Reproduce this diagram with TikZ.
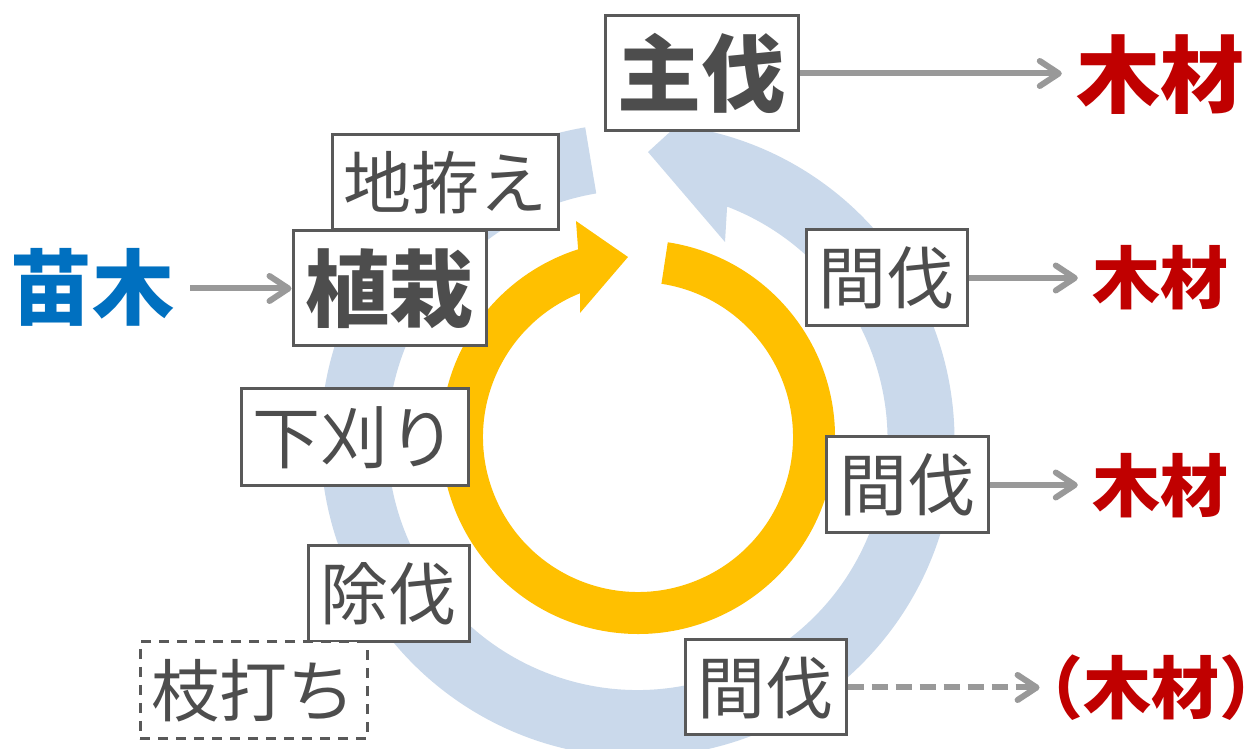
\documentclass[tikz,border=0pt]{standalone}
\usepackage{fontspec}
\setmainfont{Noto Sans CJK JP}
\usetikzlibrary{calc,arrows.meta}
\definecolor{ringblue}{RGB}{202,217,235}
\definecolor{ringyellow}{RGB}{255,192,0}
\definecolor{txtgray}{RGB}{77,77,77}
\definecolor{boxgray}{RGB}{89,89,89}
\definecolor{arrgray}{RGB}{153,153,153}
\definecolor{seedblue}{RGB}{0,112,192}
\definecolor{woodred}{RGB}{192,0,0}
\begin{document}
\begin{tikzpicture}[x=1pt,y=1pt,
  box/.style={draw=boxgray, line width=3pt, fill=white, inner sep=0pt, text=txtgray,
    font=\fontsize{68}{68}\selectfont},
  bigbox/.style={box, font=\fontsize{84}{84}\selectfont\bfseries},
  dbox/.style={box, dash pattern=on 10pt off 8pt},
  woodbig/.style={inner sep=0pt, text=woodred, font=\fontsize{84}{84}\selectfont\bfseries},
  woodsmall/.style={inner sep=0pt, text=woodred, font=\fontsize{68}{68}\selectfont\bfseries},
  garrow/.style={draw=arrgray, line width=6pt,
    -{Straight Barb[length=19pt,width=25pt,round]}},
  gdarrow/.style={garrow, dash pattern=on 16pt off 8pt}
]
\useasboundingbox (0,0) rectangle (1256,749);
\fill[white] (0,0) rectangle (1256,749);

% blue cycle arrow
\coordinate (B) at (637.5,309);
\fill[ringblue] ($(B)+(99.5:317)$) arc[start angle=99.5,end angle=438.6,radius=317pt]
  -- (705,649) -- (648,597) -- (725,507) -- ($(B)+(69:250)$)
  arc[start angle=69,end angle=-260.5,radius=250pt] -- cycle;

% yellow cycle arrow
\coordinate (Y) at (638,312);
\fill[ringyellow] ($(Y)+(81.3:197)$) arc[start angle=81.3,end angle=-252.3,radius=197pt]
  -- (576,528) -- (628,492) -- (580,436) -- ($(Y)+(-248.1:155)$)
  arc[start angle=-248.1,end angle=81.3,radius=155pt] -- cycle;

% boxes
\node[bigbox, minimum width=193pt, minimum height=115pt] (shubatsu) at (701.5,675.5) {主伐};
\node[box, minimum width=226pt, minimum height=95pt] (jigoshirae) at (445,566.5) {地拵え};
\node[bigbox, minimum width=193pt, minimum height=115pt] (shokusai) at (389.5,460.5) {植栽};
\node[box, minimum width=161pt, minimum height=96pt] (kanbatsuA) at (886.5,471) {間伐};
\node[box, minimum width=227pt, minimum height=97pt] (shitagari) at (354.5,311.5) {下刈り};
\node[box, minimum width=162pt, minimum height=96pt] (kanbatsuB) at (907,264) {間伐};
\node[box, minimum width=161pt, minimum height=96pt] (jobatsu) at (388.5,155) {除伐};
\node[dbox, minimum width=227pt, minimum height=97pt] (edauchi) at (253.5,58.5) {枝打ち};
\node[box, minimum width=161pt, minimum height=95pt] (kanbatsuC) at (765.5,61.5) {間伐};

% labels
\node[inner sep=0pt, text=seedblue, font=\fontsize{82}{82}\selectfont\bfseries] (naegi) at (92,462) {苗木};
\node[woodbig] (woodA) at (1160,674) {木材};
\node[woodsmall] (woodB) at (1160,471) {木材};
\node[woodsmall] (woodC) at (1160,263) {木材};
\node[woodsmall] (woodD) at (1151,61) {\kern-0.6em（木材）\kern-0.6em};

% arrows
\draw[garrow, shorten <=16pt] (naegi.east |- shokusai.west) -- (shokusai.west);
\draw[garrow, shorten >=14pt] (shubatsu.east) -- (shubatsu.east -| woodA.west);
\draw[garrow, shorten >=14pt] (kanbatsuA.east) -- (kanbatsuA.east -| woodB.west);
\draw[garrow, shorten >=14pt] (kanbatsuB.east) -- (kanbatsuB.east -| woodC.west);
\draw[gdarrow, shorten >=16pt] (kanbatsuC.east) -- (kanbatsuC.east -| woodD.west);
\end{tikzpicture}
\end{document}
